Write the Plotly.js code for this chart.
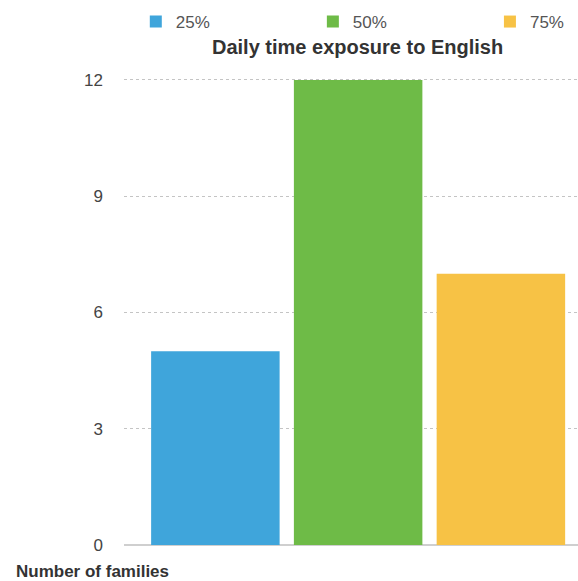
<!DOCTYPE html>
<html><head><meta charset="utf-8">
<script src="https://cdn.plot.ly/plotly-3.0.1.min.js"></script>
<style>html,body{margin:0;padding:0;background:#fff}#chart{width:578px;height:581px}</style>
</head><body><div id="chart"></div>
<script>
const categories = ["25%", "50%", "75%"];
const values = [5, 12, 7];
const colors = ["#3FA5DB", "#6EBB47", "#F7C245"];
const yTicks = [0, 3, 6, 9, 12];
const legendIds = ["legend", "legend2", "legend3"];
const legendX = [0.026, 0.416, 0.806];

const traces = categories.map((c, i) => ({
  type: "bar", name: c, x: [c], y: [values[i]], legend: legendIds[i],
  marker: {color: colors[i]}, width: 0.9, hoverinfo: "x+y"
}));

const FONT = "Liberation Sans, Arial, sans-serif";
const H = 581, MT = 76, MB = 36, PH = H - MT - MB;
const layout = {
  width: 578, height: H,
  margin: {l: 124, r: 0, t: MT, b: MB},
  paper_bgcolor: "#fff", plot_bgcolor: "#fff",
  font: {family: FONT, size: 17, color: "#444"},
  barmode: "overlay",
  showlegend: true,
  xaxis: {type: "category", range: [-0.64, 2.54], showticklabels: false, showgrid: false,
    zeroline: false, showline: false, ticks: ""},
  yaxis: {range: [0, 12.1], tickvals: yTicks, ticktext: yTicks.map(String), showgrid: true,
    gridcolor: "#c4c4c4", griddash: "dot", gridwidth: 1, zeroline: true, zerolinecolor: "#cfcfcf",
    zerolinewidth: 2, ticks: "", ticklabelstandoff: 20, tickfont: {size: 17, color: "#444"}},
  annotations: [
    {text: "Daily time exposure to English", xref: "paper", yref: "paper", x: 0.515,
      y: (H - MB - 47) / PH, xanchor: "center", yanchor: "middle", showarrow: false,
      font: {size: 20, color: "#333", family: FONT, weight: "bold"}},
    {text: "Number of families", xref: "paper", yref: "paper", x: -0.243,
      y: (H - MB - 571) / PH, xanchor: "left", yanchor: "middle", showarrow: false,
      font: {size: 17, color: "#333", family: FONT, weight: "bold"}}
  ]
};
legendIds.forEach((id, i) => {
  layout[id] = {orientation: "h", x: legendX[i], xanchor: "left", yref: "container", y: 1 - 22 / H,
    yanchor: "middle", font: {size: 17, color: "#555"}, bgcolor: "rgba(0,0,0,0)"};
});
Plotly.newPlot("chart", traces, layout, {displayModeBar: false, staticPlot: true});
</script></body></html>
